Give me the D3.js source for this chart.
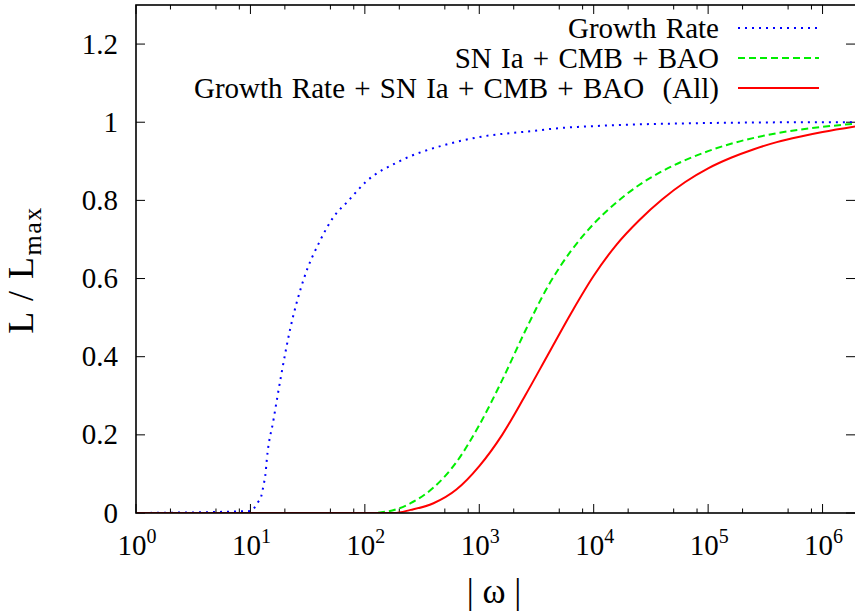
<!DOCTYPE html>
<html>
<head>
<meta charset="utf-8">
<script src="https://cdn.jsdelivr.net/npm/d3@7"></script>
<style>
  body { margin: 0; background: #fff; }
</style>
</head>
<body>
<svg id="chart" width="855" height="613"></svg>
<script>
// Values
const growthOmega = [1, 10, 11.6, 12.4, 13, 13.6, 13.9, 15.9, 18.5, 22.3, 29.2, 40.8, 53.4, 72.3, 100, 200, 500, 1e3, 3e3, 5e3, 1e4, 1e5, 1e6, 2e6];
const growthL = [0, 0.005, 0.027, 0.042, 0.07, 0.105, 0.136, 0.238, 0.35, 0.472, 0.598, 0.698, 0.758, 0.8, 0.845, 0.9, 0.942, 0.962, 0.978, 0.985, 0.99, 0.998, 1, 1];

const snOmega = [1, 110, 158, 251, 398, 631, 1000, 1585, 2512, 3981, 6310, 1e4, 15849, 25119, 39811, 63096, 1e5, 158489, 251189, 398107, 630957, 1e6, 2e6];
const snL = [0, 0, 0.004, 0.025, 0.065, 0.13, 0.225, 0.34, 0.465, 0.58, 0.67, 0.74, 0.795, 0.84, 0.875, 0.903, 0.926, 0.945, 0.96, 0.972, 0.981, 0.988, 0.997];

const allOmega = [1, 180, 251, 398, 631, 1000, 1585, 2512, 3981, 6310, 1e4, 15849, 25119, 39811, 63096, 1e5, 158489, 251189, 398107, 630957, 1e6, 2e6];
const allL = [0, 0, 0.008, 0.025, 0.06, 0.12, 0.2, 0.3, 0.405, 0.51, 0.607, 0.687, 0.75, 0.803, 0.847, 0.882, 0.909, 0.931, 0.949, 0.963, 0.975, 0.99];

const seriesNames = ["Growth Rate", "SN Ia + CMB + BAO", "Growth Rate + SN Ia + CMB + BAO  (All)"];
const seriesColors = ["#0000ff", "#00ee00", "#ff0000"];
const seriesDash = ["2,5", "7,4", null];

const yTicks = [0, 0.2, 0.4, 0.6, 0.8, 1, 1.2];
const xExponents = [0, 1, 2, 3, 4, 5, 6];
const minorSteps = [2, 5, 8];

const serif = "'Liberation Serif', 'Times New Roman', 'DejaVu Serif', serif";
const svg = d3.select("#chart").attr("font-family", serif);
const plotLeft = 136, plotRight = 857, plotTop = 5, plotBottom = 513;

const x = d3.scaleLog().domain([1, 2e6]).range([plotLeft, plotRight]);
const y = d3.scaleLinear().domain([0, 1.3]).range([plotBottom, plotTop]);

const series = [
  { name: seriesNames[0], omega: growthOmega, L: growthL },
  { name: seriesNames[1], omega: snOmega, L: snL },
  { name: seriesNames[2], omega: allOmega, L: allL }
].map((s, i) => ({
  ...s,
  color: seriesColors[i],
  dash: seriesDash[i],
  points: s.omega.map((w, j) => [w, s.L[j]])
}));

svg.append("defs").append("clipPath").attr("id", "plotClip")
  .append("rect")
  .attr("x", plotLeft).attr("y", plotTop)
  .attr("width", plotRight - plotLeft).attr("height", plotBottom - plotTop);

// ticks (inward, on all four sides)
const tickG = svg.append("g").attr("stroke", "#000").attr("stroke-width", 1);
const majors = xExponents.map(e => Math.pow(10, e));
const minors = [];
xExponents.forEach(e => minorSteps.forEach(m => {
  const v = m * Math.pow(10, e);
  if (v <= 2e6) minors.push(v);
}));

majors.forEach(v => {
  tickG.append("line").attr("x1", x(v)).attr("x2", x(v)).attr("y1", plotBottom).attr("y2", plotBottom - 9);
  tickG.append("line").attr("x1", x(v)).attr("x2", x(v)).attr("y1", plotTop).attr("y2", plotTop + 9);
});
minors.forEach(v => {
  tickG.append("line").attr("x1", x(v)).attr("x2", x(v)).attr("y1", plotBottom).attr("y2", plotBottom - 4.5);
  tickG.append("line").attr("x1", x(v)).attr("x2", x(v)).attr("y1", plotTop).attr("y2", plotTop + 4.5);
});
yTicks.forEach(v => {
  tickG.append("line").attr("x1", plotLeft).attr("x2", plotLeft + 9).attr("y1", y(v)).attr("y2", y(v));
  tickG.append("line").attr("x1", plotRight - 2).attr("x2", plotRight - 11).attr("y1", y(v)).attr("y2", y(v));
});

// curves
const line = d3.line()
  .x(d => x(d[0]))
  .y(d => y(d[1]))
  .curve(d3.curveMonotoneX);

const curveG = svg.append("g").attr("clip-path", "url(#plotClip)");
series.forEach(s => {
  curveG.append("path")
    .attr("d", line(s.points))
    .attr("fill", "none")
    .attr("stroke", s.color)
    .attr("stroke-width", 2)
    .attr("stroke-dasharray", s.dash);
});

// frame
svg.append("rect")
  .attr("x", plotLeft).attr("y", plotTop)
  .attr("width", plotRight - plotLeft).attr("height", plotBottom - plotTop)
  .attr("fill", "none").attr("stroke", "#000").attr("stroke-width", 1.6);

// tick labels
yTicks.forEach(v => {
  svg.append("text")
    .attr("x", plotLeft - 18).attr("y", y(v) + 9.5)
    .attr("text-anchor", "end")
    .attr("font-size", 29)
    .text(v === 0 || v === 1 ? String(v) : v.toFixed(1));
});
xExponents.forEach(e => {
  const t = svg.append("text")
    .attr("x", x(Math.pow(10, e)) + 1).attr("y", 555)
    .attr("text-anchor", "middle")
    .attr("font-size", 29);
  t.append("tspan").text("10");
  t.append("tspan").attr("font-size", 20).attr("dy", -12).text(e);
});

// axis titles
const yLab = svg.append("text")
  .attr("transform", "translate(33,270) rotate(-90)")
  .attr("text-anchor", "middle")
  .attr("font-size", 36)
  .attr("letter-spacing", 1.5)
  .attr("xml:space", "preserve");
yLab.append("tspan").text("L / L");
yLab.append("tspan").attr("font-size", 26).attr("dy", 8).text("max");

svg.append("text")
  .attr("x", 494).attr("y", 603)
  .attr("text-anchor", "middle")
  .attr("font-size", 35)
  .text("| ω |");

// legend
series.forEach((s, i) => {
  const ly = 28 + i * 30;
  svg.append("text")
    .attr("x", 719).attr("y", ly + 10)
    .attr("text-anchor", "end")
    .attr("font-size", 29)
    .attr("word-spacing", 2)
    .attr("xml:space", "preserve")
    .style("white-space", "pre")
    .text(s.name);
  svg.append("line")
    .attr("x1", 738).attr("x2", 819)
    .attr("y1", ly).attr("y2", ly)
    .attr("stroke", s.color)
    .attr("stroke-width", 2)
    .attr("stroke-dasharray", s.dash);
});
</script>
</body>
</html>
